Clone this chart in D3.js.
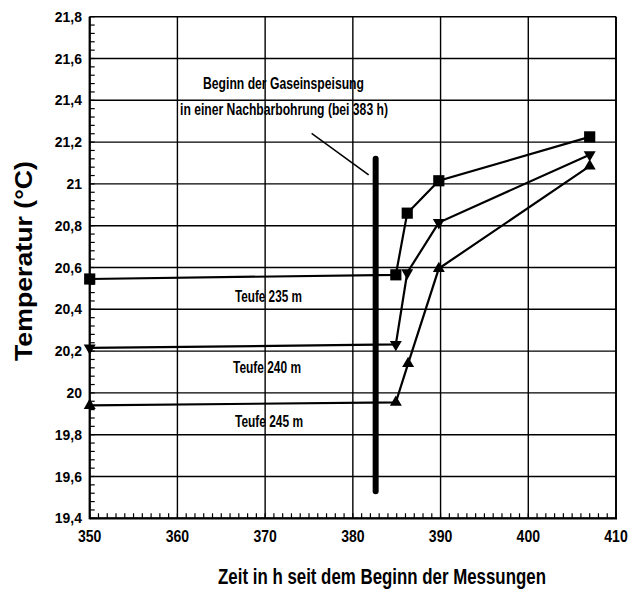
<!DOCTYPE html>
<html><head><meta charset="utf-8">
<script src="https://cdn.jsdelivr.net/npm/d3@7"></script>
<style>
body{margin:0;background:#fff;}
text{fill:#000;font-family:"Liberation Sans",Arial,Helvetica,sans-serif;}
</style></head>
<body><svg id="c" width="635" height="596"></svg>
<script>
// Data
const timeTicks = [350, 360, 370, 380, 390, 400, 410];
const tempTicks = [19.4, 19.6, 19.8, 20, 20.2, 20.4, 20.6, 20.8, 21, 21.2, 21.4, 21.6, 21.8];
const depth235 = [[350, 20.545], [384.9, 20.565], [386.2, 20.86], [389.8, 21.015], [407, 21.225]];
const depth240 = [[350, 20.215], [384.9, 20.232], [386.2, 20.575], [389.8, 20.815], [407, 21.14]];
const depth245 = [[350, 19.94], [384.9, 19.955], [386.3, 20.14], [389.8, 20.595], [407, 21.085]];
const seriesLabels = ["Teufe 235 m", "Teufe 240 m", "Teufe 245 m"];
const gasBar = 382.6;
const gasLineRange = [19.53, 21.12];
const annotationLines = ["Beginn der Gaseinspeisung", "in einer Nachbarbohrung (bei 383 h)"];
const xTitle = "Zeit in h seit dem Beginn der Messungen";
const yTitle = "Temperatur (°C)";

const svg = d3.select("#c");
const x = d3.scaleLinear().domain([350, 410]).range([89.7, 616]);
const y = d3.scaleLinear().domain([19.4, 21.8]).range([518.3, 16.7]);
const fmt = d => (Math.abs(d - Math.round(d)) < 1e-9 ? String(Math.round(d)) : d.toFixed(1).replace(".", ","));

function squeeze(sel, factor) {
  sel.each(function () {
    const w = this.getComputedTextLength();
    d3.select(this).attr("textLength", w * factor).attr("lengthAdjust", "spacingAndGlyphs");
  });
}
function fitTo(sel, widths) {
  sel.each(function (d, i) {
    d3.select(this).attr("textLength", widths[i]).attr("lengthAdjust", "spacingAndGlyphs");
  });
}

// grid
const g = svg.append("g");
g.selectAll(".hg").data(tempTicks).join("line")
  .attr("x1", x(350)).attr("x2", x(410)).attr("y1", d => y(d)).attr("y2", d => y(d))
  .attr("stroke", "#000").attr("stroke-width", 1.4);
g.selectAll(".vg").data(timeTicks).join("line")
  .attr("y1", y(19.4)).attr("y2", y(21.8)).attr("x1", d => x(d)).attr("x2", d => x(d))
  .attr("stroke", "#000").attr("stroke-width", 1.4);

// minor ticks
const xMinor = d3.range(350, 410.001, 1);
g.selectAll(".xm").data(xMinor).join("line")
  .attr("x1", d => x(d)).attr("x2", d => x(d)).attr("y1", y(19.4)).attr("y2", y(19.4) - 5)
  .attr("stroke", "#000").attr("stroke-width", 1.2);
const yMinor = d3.range(0, 61).map(i => 19.4 + i * 0.04);
g.selectAll(".ym").data(yMinor).join("line")
  .attr("x1", x(350)).attr("x2", x(350) + 5).attr("y1", d => y(d)).attr("y2", d => y(d))
  .attr("stroke", "#000").attr("stroke-width", 1.2);

// axes frame
g.append("line").attr("x1", x(350)).attr("x2", x(350)).attr("y1", y(19.4)+1).attr("y2", y(21.8))
  .attr("stroke", "#000").attr("stroke-width", 2.2);
g.append("line").attr("x1", x(350)).attr("x2", x(410)+1).attr("y1", y(19.4)).attr("y2", y(19.4))
  .attr("stroke", "#000").attr("stroke-width", 2.2);
g.append("line").attr("x1", x(410)).attr("x2", x(410)).attr("y1", y(19.4)).attr("y2", y(21.8))
  .attr("stroke", "#000").attr("stroke-width", 1.8);

// tick labels
svg.selectAll(".yl").data(tempTicks).join("text")
  .attr("x", 82).attr("y", d => y(d) + 5).attr("text-anchor", "end")
  .attr("font-size", 15).attr("font-weight", "bold").text(fmt)
  .call(squeeze, 0.93);
svg.selectAll(".xl").data(timeTicks).join("text")
  .attr("x", d => x(d)).attr("y", 542).attr("text-anchor", "middle")
  .attr("font-size", 16.5).attr("font-weight", "bold").text(fmt)
  .call(squeeze, 0.85);

// axis titles
svg.append("text").attr("transform", `translate(32,261) rotate(-90)`)
  .attr("text-anchor", "middle")
  .attr("font-size", 23).attr("font-weight", "bold").text(yTitle)
  .call(fitTo, [200]);
const xt = svg.append("text").attr("x", 0).attr("y", 0).attr("text-anchor", "middle")
  .attr("font-size", 22).attr("font-weight", "bold").text(xTitle);
const xtw = xt.node().getComputedTextLength();
xt.attr("transform", `translate(382,584) scale(${328 / xtw},1)`);

// gas injection bar
svg.append("line").attr("x1", x(gasBar)).attr("x2", x(gasBar))
  .attr("y1", y(gasLineRange[0])).attr("y2", y(gasLineRange[1]))
  .attr("stroke", "#000").attr("stroke-width", 6).attr("stroke-linecap", "round");
// annotation pointer
svg.append("line").attr("x1", x(375.3)).attr("y1", y(21.242)).attr("x2", x(381.8)).attr("y2", y(21.043))
  .attr("stroke", "#000").attr("stroke-width", 1.5);
svg.selectAll(".ann").data(annotationLines).join("text")
  .attr("x", (d, i) => i === 0 ? 283.5 : 284).attr("y", (d, i) => i === 0 ? 88.5 : 115)
  .attr("text-anchor", "middle").attr("font-size", 16.5).attr("font-weight", "bold")
  .text(d => d)
  .call(fitTo, [161, 208]);

// series
const line = d3.line().x(d => x(d[0])).y(d => y(d[1]));
const series = [depth235, depth240, depth245];
const symbols = [d3.symbolSquare, d3.symbolTriangle, d3.symbolTriangle];
const rot = [0, 180, 0];
series.forEach((s, i) => {
  svg.append("path").attr("d", line(s)).attr("fill", "none").attr("stroke", "#000").attr("stroke-width", 2.2);
  svg.selectAll(".m" + i).data(s).join("path")
    .attr("d", d3.symbol().type(symbols[i]).size(i === 0 ? 125 : 62))
    .attr("transform", d => `translate(${x(d[0])},${y(d[1])}) rotate(${rot[i]})`)
    .attr("fill", "#000");
});

// series labels
const labelPos = [[268.4, 302], [267, 373], [269, 427]];
svg.selectAll(".sl").data(seriesLabels).join("text")
  .attr("x", (d, i) => labelPos[i][0]).attr("y", (d, i) => labelPos[i][1])
  .attr("text-anchor", "middle").attr("font-size", 16.5).attr("font-weight", "bold")
  .text(d => d)
  .call(fitTo, [67, 68, 68]);
</script></body></html>
